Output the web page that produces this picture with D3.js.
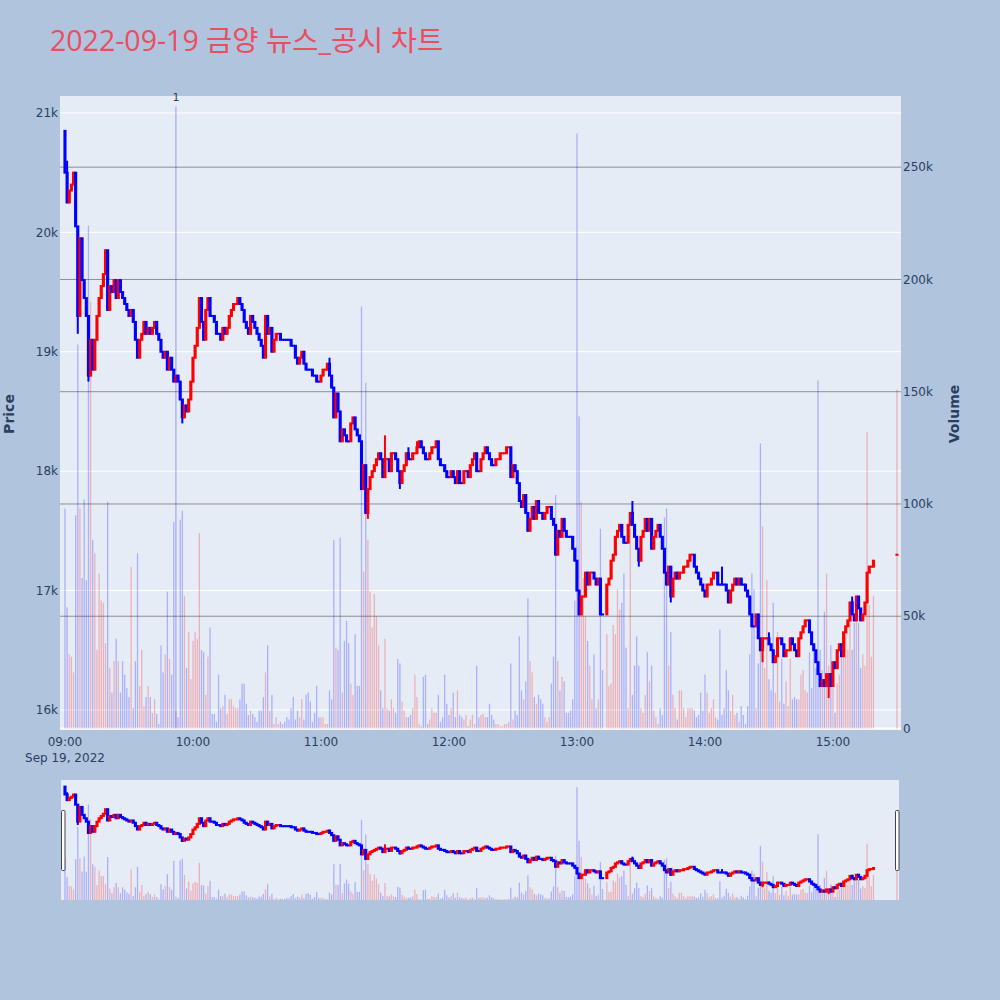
<!DOCTYPE html>
<html>
<head>
<meta charset="utf-8">
<script src="https://cdn.jsdelivr.net/npm/d3@7"></script>
<style>
  body { margin: 0; background: #b0c4de; }
  svg  { display: block; font-family: "DejaVu Sans", verdana, arial, "Noto Sans CJK KR", sans-serif; }
</style>
</head>
<body>
<svg id="chart" width="1000" height="1000"></svg>
<script>
// ──────────────────────────────────────────────────────────────
// DATA (1-minute bars)
// ──────────────────────────────────────────────────────────────
const titleText    = "2022-09-19 금양 뉴스_공시 차트";
const sessionStart = new Date(2022, 8, 19, 9, 0);   // minute 0 = 09:00
const firstOpen    = 20850;

// close price per minute from 09:00 (null = no trade)
const closes = [
  20500,20250,20350,20400,20500,20050,19300,19950,19600,19450,
  19300,18800,19100,18850,19100,19300,19450,19550,19650,19850,
  19350,19550,19500,19600,19450,19600,19500,19450,19400,19350,
  19300,19350,19250,19100,18950,19100,19150,19250,19150,19200,
  19150,19200,19250,19150,19100,19000,18950,19000,18850,18950,
  18850,18750,18800,18750,18600,18450,18550,18500,18600,18750,
  18950,19050,19200,19450,19250,19100,19350,19450,19300,19300,
  19250,19150,19150,19100,19200,19150,19200,19300,19350,19400,
  19400,19450,19400,19350,19250,19200,19150,19300,19250,19200,
  19150,19100,19050,18950,19300,19150,19200,19000,19100,19150,
  19150,19100,19100,19100,19100,19100,19050,19050,18950,18900,
  18950,19000,18900,18850,18850,18850,18800,18800,18750,18750,
  18800,18850,18850,18900,18800,18700,18450,18650,18500,18250,
  18350,18300,18250,18250,18400,18450,18350,18300,18250,17850,
  18050,17650,17850,17950,18000,18050,18100,18150,18100,17950,
  18100,18100,18000,18150,18150,18100,18000,17900,18000,18050,
  18150,18100,18100,18150,18150,18200,18250,18200,18150,18100,
  18100,18150,18200,18200,18250,18100,18050,18050,18000,17950,
  17950,18000,17950,17900,18000,17900,17900,18000,18000,17950,
  18050,18100,18150,18000,18000,18100,18150,18200,18150,18100,
  18050,18050,18100,18100,18150,18150,18150,18200,18200,17950,
  18050,18000,17900,17750,17700,17800,17650,17500,17600,17700,
  17600,17750,17650,17650,17600,17650,17700,17700,17600,17550,
  17300,17500,17450,17600,17500,17450,17450,17450,17350,17250,
  17000,16800,16950,16950,17150,17050,17150,17150,17100,17050,
  17100,16800,16800,null,17050,17100,17250,17300,17450,17500,
  17550,17450,17400,17400,17550,17650,17550,17450,17350,17250,
  17450,17500,17600,17500,17600,17350,17450,17500,17550,17450,
  17350,17150,17050,17200,16950,17100,17150,17100,17150,17150,
  17200,17200,17250,17300,17300,17200,17150,17100,17050,17000,
  16950,17050,17050,17100,17150,17150,17050,17050,17050,17050,
  17000,16900,17000,17050,17100,17050,17100,17050,17050,17000,
  16950,16800,16700,16700,16800,16600,16500,16600,16600,16600,
  16550,16500,16400,16450,16600,16600,16550,16450,16500,16500,
  16600,16550,16500,16450,16600,16650,16700,16750,16750,16650,
  16550,16500,16400,16300,16200,16250,16200,16300,16300,16200,
  16400,16350,16500,16550,16450,16650,16700,16750,16900,16800,
  16750,16950,16850,16750,16800,16900,17150,17200,17200,17250
];

// volume per minute, thousands of shares
const volumesK = [
  98,54,33,32,25,95,171,98,67,102,
  66,224,190,84,78,35,69,57,56,38,
  101,27,16,30,40,30,16,30,24,18,
  14,72,9,30,78,19,35,10,14,19,
  14,7,13,6.5,2,37,25,33,61,31,
  24,92,8,5,93,97,59,27,43,22,
  39,43,40,87,35,34,15,32,45,6.5,
  6.5,3,24,9,10,15,6.5,13,13,10,
  9,9,13,20,20,11,6,8,6.5,5,
  3,8,8,14,25,37,8,15,2,5,
  2,3,2,3,5,4,9,14,4,8,
  5,13,4,15,16,12,3,7,19,5,
  5,5,2,2,17,13,84,36,35,85,
  16,39,48,38,20,15,42,19,19,188,
  70,154,84,61,45,60,50,37,17,9,
  40,9,8,13,9,7,31,29,12,8,
  5,5,6,9,24,14,2,1,23,24,
  2,4,9,7,7,15,3,5,24,11,
  6,9,16,5,17,6,5,4,6,1,
  4,6,2,28,5,6,6.5,5,5,11,
  6,4,2,2,1,1,2,2,3,29,
  4,8,6,41,17,13,21,58,30,25,
  14,11,15,13,11,5,3,5,20,32,
  104,30,17,23,21,7,7,8,13,57,
  265,139,101,67,50,39,28,13,33,9,
  13,89,26,0,42,19,20,46,42,62,
  53,56,69,36,9,89,15,28,41,28,
  9,7,15,34,21,28,8,5,2,9,
  6,94,98,28,43,15,9,4,17,17,
  9,5,9,9,9,8,5,6,16,8,
  24,16,7,9,13,5,4,44,6,9,
  26,17,8,15,6,7,3,10,6,2,
  10,33,69,62,9,29,127,90,27,66,
  22,17,56,16,43,12,31,11,21,10,
  31,13,14,13,13,24,26,17,16,34,
  18,36,27,155,35,26,52,69,28,37,
  18,7,20,24,32,39,42,35,51,35,
  47,56,47,27,33,28,132,55,32,59
];

// wick extremes beyond the body: [minute, price]
const wickHigh = [[0,20850],[1,20600],[124,18950],[150,18300],[161,18200],[165,18250],[266,17750],[308,17200],[330,16650],[369,16950]];
const wickLow  = [[6,19150],[11,18750],[55,18400],[142,17600],[157,17850],[269,17200],[284,16900],[327,16400],[358,16100]];

// closing auction bar at 15:30 (single price)
const auction = { minute: 390, price: 17300, volumeK: 151 };

// news markers
const newsMarks = [{ minute: 52, label: "1", heightK: 277 }];

const priceTicks  = [16000, 17000, 18000, 19000, 20000, 21000];
const volumeTicks = [0, 50000, 100000, 150000, 200000, 250000];
const hourTicks   = ["09:00","10:00","11:00","12:00","13:00","14:00","15:00"];

// ──────────────────────────────────────────────────────────────
// BUILD CANDLES (open = previous close)
// ──────────────────────────────────────────────────────────────
const atMinute = m => d3.timeMinute.offset(sessionStart, m);
const candles = [];
let prevClose = firstOpen;
closes.forEach((c, i) => {
  if (c == null) return;
  const o = prevClose;
  candles.push({ m: i, t: atMinute(i), o, c, h: Math.max(o, c), l: Math.min(o, c), v: volumesK[i] * 1000 });
  prevClose = c;
});
candles.push({ m: auction.minute, t: atMinute(auction.minute), o: auction.price, c: auction.price,
               h: auction.price, l: auction.price, v: auction.volumeK * 1000 });
const byMinute = new Map(candles.map(d => [d.m, d]));
wickHigh.forEach(([m, p]) => { const d = byMinute.get(m); if (d) d.h = Math.max(d.h, p); });
wickLow.forEach(([m, p])  => { const d = byMinute.get(m); if (d) d.l = Math.min(d.l, p); });

// direction: close vs open; flat bars compare with previous close, else keep last direction
let lastUp = false, lastC = firstOpen;
candles.forEach(d => {
  if (d.c > d.o) d.up = true;
  else if (d.c < d.o) d.up = false;
  else d.up = d.c > lastC ? true : d.c < lastC ? false : lastUp;
  lastUp = d.up; lastC = d.c;
});

// ──────────────────────────────────────────────────────────────
// SCALES
// ──────────────────────────────────────────────────────────────
const svg = d3.select("#chart");
const plot   = { left: 60, right: 901, top: 96, bottom: 730 };
const slider = { left: 61, right: 899, top: 780, bottom: 900 };

const xDomain = [new Date(2022, 8, 19, 8, 57, 40), new Date(2022, 8, 19, 15, 31, 54)];
const x  = d3.scaleTime().domain(xDomain).range([plot.left, plot.right]);
const yP = d3.scaleLinear().domain([15832, 21142]).range([plot.bottom, plot.top]);
const yV = d3.scaleLinear().domain([0, 281700]).range([728.5, plot.top]);

const xs  = d3.scaleTime().domain(xDomain).range([plot.left, plot.right]);
const yPs = d3.scaleLinear().domain([15832, 21142]).range([slider.bottom, slider.top]);
const yVs = d3.scaleLinear().domain([0, 281700]).range([slider.bottom, slider.top]);

const UP = "#ff0000", DOWN = "#0000ff";
const txt = "#2a3f5f";

// ──────────────────────────────────────────────────────────────
// BACKGROUND + TITLE
// ──────────────────────────────────────────────────────────────
svg.append("rect").attr("width", 1000).attr("height", 1000).attr("fill", "#b0c4de");
svg.append("text")
  .attr("x", 50).attr("y", 51)
  .attr("font-family", "'Open Sans', 'Noto Sans CJK KR', sans-serif")
  .attr("font-size", 28.5).attr("fill", "#eb4d61")
  .text(titleText);

const defs = svg.append("defs");
defs.append("clipPath").attr("id", "clipMain").append("rect")
  .attr("x", plot.left).attr("y", plot.top)
  .attr("width", plot.right - plot.left).attr("height", plot.bottom - plot.top);
defs.append("clipPath").attr("id", "clipSlider").append("rect")
  .attr("x", slider.left).attr("y", slider.top)
  .attr("width", slider.right - slider.left).attr("height", slider.bottom - slider.top);

// ──────────────────────────────────────────────────────────────
// MAIN PLOT
// ──────────────────────────────────────────────────────────────
svg.append("rect")
  .attr("x", plot.left).attr("y", plot.top)
  .attr("width", plot.right - plot.left).attr("height", plot.bottom - plot.top)
  .attr("fill", "#e5ecf6");

// price grid (white)
svg.append("g").selectAll("line").data(priceTicks).join("line")
  .attr("x1", plot.left).attr("x2", plot.right)
  .attr("y1", d => yP(d)).attr("y2", d => yP(d))
  .attr("stroke", "#fff").attr("stroke-width", 1);

// volume grid (gray) + zero line
svg.append("g").selectAll("line").data(volumeTicks.filter(d => d > 0)).join("line")
  .attr("x1", plot.left).attr("x2", plot.right)
  .attr("y1", d => yV(d)).attr("y2", d => yV(d))
  .attr("stroke", "#8f8f8f").attr("stroke-width", 1);
svg.append("line")
  .attr("x1", plot.left).attr("x2", plot.right)
  .attr("y1", yV(0)).attr("y2", yV(0))
  .attr("stroke", "#fff").attr("stroke-width", 2);

function drawCandles(g, xS, yS) {
  const bw = 1.1;
  const c = g.selectAll("g.candle").data(candles).join("g").attr("class", "candle");
  c.append("line")
    .attr("x1", d => xS(d.t)).attr("x2", d => xS(d.t))
    .attr("y1", d => yS(d.h)).attr("y2", d => yS(d.l))
    .attr("stroke", d => d.up ? UP : DOWN).attr("stroke-width", 2);
  // body; flat bars get a hair of height so the 2px outline still shows
  c.append("rect")
    .attr("x", d => xS(d.t) - bw / 2).attr("width", bw)
    .attr("y", d => yS(Math.max(d.o, d.c)))
    .attr("height", d => Math.max(0.05, Math.abs(yS(d.o) - yS(d.c))))
    .attr("fill", d => d.up ? UP : DOWN)
    .attr("stroke", d => d.up ? UP : DOWN).attr("stroke-width", 2);
}

function drawVolume(g, xS, yS) {
  const w = 1.3;
  g.selectAll("rect.vol").data(candles.filter(d => d.v > 0)).join("rect")
    .attr("class", "vol")
    .attr("x", d => xS(d.t) - w / 2).attr("width", w)
    .attr("y", d => yS(d.v)).attr("height", d => yS(0) - yS(d.v))
    .attr("fill", d => d.up ? UP : DOWN).attr("fill-opacity", 0.25);
}

const mainG = svg.append("g").attr("clip-path", "url(#clipMain)");
drawCandles(mainG.append("g"), x, yP);
drawVolume(mainG.append("g"), x, yV);

// news marker line + label
mainG.append("g").selectAll("rect").data(newsMarks).join("rect")
  .attr("x", d => x(atMinute(d.minute)) - 0.7).attr("width", 1.4)
  .attr("y", d => yV(d.heightK * 1000)).attr("height", d => yV(0) - yV(d.heightK * 1000))
  .attr("fill", DOWN).attr("fill-opacity", 0.25);
svg.append("g").selectAll("text").data(newsMarks).join("text")
  .attr("x", d => x(atMinute(d.minute))).attr("y", 101)
  .attr("text-anchor", "middle").attr("font-size", 11).attr("fill", txt)
  .text(d => d.label);

// ──────────────────────────────────────────────────────────────
// AXES LABELS
// ──────────────────────────────────────────────────────────────
svg.append("g").selectAll("text").data(priceTicks).join("text")
  .attr("x", 58).attr("y", d => yP(d)).attr("dy", "0.35em")
  .attr("text-anchor", "end").attr("font-size", 12).attr("fill", txt)
  .text(d => d3.format("~s")(d));

svg.append("g").selectAll("text").data(volumeTicks).join("text")
  .attr("x", 903).attr("y", d => yV(d)).attr("dy", "0.35em")
  .attr("text-anchor", "start").attr("font-size", 12).attr("fill", txt)
  .text(d => d === 0 ? "0" : d3.format("~s")(d));

const parseHM = d3.timeParse("%Y-%m-%d %H:%M");
svg.append("g").selectAll("text").data(hourTicks).join("text")
  .attr("x", d => x(parseHM("2022-09-19 " + d))).attr("y", 746)
  .attr("text-anchor", "middle").attr("font-size", 12).attr("fill", txt)
  .text(d => d);
svg.append("text")
  .attr("x", x(sessionStart)).attr("y", 762)
  .attr("text-anchor", "middle").attr("font-size", 12).attr("fill", txt)
  .text(d3.timeFormat("%b %-d, %Y")(sessionStart));

svg.append("text")
  .attr("transform", "translate(14,414) rotate(-90)")
  .attr("text-anchor", "middle").attr("font-size", 14).attr("font-weight", 700).attr("fill", txt)
  .text("Price");
svg.append("text")
  .attr("transform", "translate(959,414) rotate(-90)")
  .attr("text-anchor", "middle").attr("font-size", 14).attr("font-weight", 700).attr("fill", txt)
  .text("Volume");

// ──────────────────────────────────────────────────────────────
// RANGE SLIDER
// ──────────────────────────────────────────────────────────────
svg.append("rect")
  .attr("x", slider.left).attr("y", slider.top)
  .attr("width", slider.right - slider.left).attr("height", slider.bottom - slider.top)
  .attr("fill", "#e5ecf6");
const slG = svg.append("g").attr("clip-path", "url(#clipSlider)");
drawCandles(slG.append("g"), xs, yPs);
drawVolume(slG.append("g"), xs, yVs);

[slider.left, slider.right - 4].forEach(hx => {
  svg.append("rect")
    .attr("x", hx + 0.5).attr("y", 810.5).attr("width", 3.5).attr("height", 60)
    .attr("rx", 1).attr("fill", "#fff").attr("stroke", "#444").attr("stroke-width", 1);
});
</script>
</body>
</html>
